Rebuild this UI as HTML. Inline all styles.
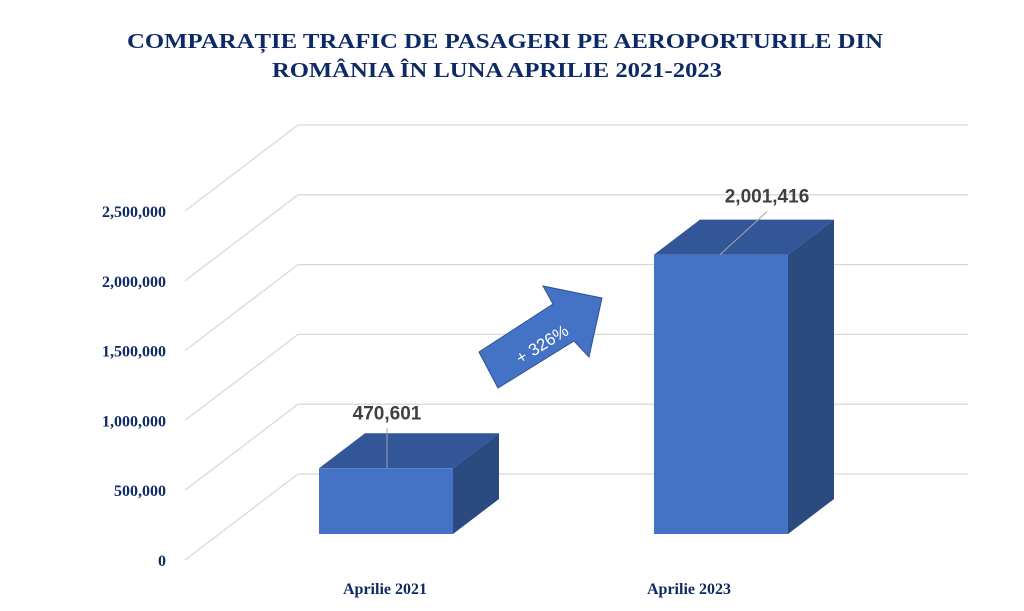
<!DOCTYPE html>
<html><head><meta charset="utf-8"><style>
html,body{margin:0;padding:0;background:#fff}
svg{display:block}
</style></head><body>
<svg width="1024" height="611" viewBox="0 0 1024 611" id="chart">
<rect width="1024" height="611" fill="#fff"/>
<g font-family="'Liberation Serif',serif" font-weight="bold" font-size="21" fill="#0e2a66" text-anchor="middle">
<text x="505" y="48" textLength="756" lengthAdjust="spacingAndGlyphs">COMPARAȚIE TRAFIC DE PASAGERI PE AEROPORTURILE DIN</text>
<text x="497" y="77" textLength="450" lengthAdjust="spacingAndGlyphs">ROMÂNIA ÎN LUNA APRILIE 2021-2023</text>
</g>
<g id="grid"></g>
<g id="yticks"></g>
<g id="bars"></g>
<g id="xlabels"></g>
<g>
<polygon points="479,352 553,304 543,286 602,298 589,357 574,341 498,388" fill="#4472C4" stroke="#2F528F" stroke-width="1"/>
<text x="542" y="350" transform="rotate(-32 542 344)" text-anchor="middle" font-family="'Liberation Sans',sans-serif" font-size="17" fill="#fff">+ 326%</text>
</g>
</svg>
<script>
const categories = ["Aprilie 2021", "Aprilie 2023"];
const values = [470601, 2001416];
const valueLabels = ["470,601", "2,001,416"];
const yTicks = [0, 500000, 1000000, 1500000, 2000000, 2500000];
const yTickLabels = ["0", "500,000", "1,000,000", "1,500,000", "2,000,000", "2,500,000"];

const NS = "http://www.w3.org/2000/svg";
const PX_PER_UNIT = 69.8 / 500000;
const DX = 113, DY = -86; // full depth offset
function yFront(v){ return 560 - v * PX_PER_UNIT; }
function barBaseY(v){ return 534 - v * PX_PER_UNIT; }
const barX = [319, 654], barW = 134, bdx = 46, bdy = -35;
function mk(tag, attrs, parent){ const e=document.createElementNS(NS,tag); for(const k in attrs) e.setAttribute(k,attrs[k]); parent.appendChild(e); return e; }

const grid = document.getElementById('grid');
const yt = document.getElementById('yticks');
yTicks.forEach((t,i)=>{
  const y = yFront(t);
  const p = mk('polyline',{points:`185,${y} ${185+DX},${y+DY} 968,${y+DY}`,fill:'none',stroke:'#d9d9d9','stroke-width':1.3},grid);
  
  
  const tx = mk('text',{x:166,y:y+6,'text-anchor':'end','font-family':"'Liberation Serif',serif",'font-weight':'bold','font-size':16,fill:'#0e2a66'},yt);
  tx.textContent = yTickLabels[i];
  
  
});

const bars = document.getElementById('bars');
const xl = document.getElementById('xlabels');
values.forEach((v,i)=>{
  const x = barX[i], y0 = barBaseY(0), y1 = barBaseY(v);
  const g = mk('g',{},bars);
  
  
  mk('polygon',{points:`${x},${y1} ${x+barW},${y1} ${x+barW+bdx},${y1+bdy} ${x+bdx},${y1+bdy}`,fill:'#325698'},g);
  mk('polygon',{points:`${x+barW},${y1} ${x+barW+bdx},${y1+bdy} ${x+barW+bdx},${y0+bdy} ${x+barW},${y0}`,fill:'#2B4A80'},g);
  mk('rect',{x:x,y:y1,width:barW,height:y0-y1,fill:'#4472C4'},g);
  // leader + label
  const lx = i===0 ? 387 : 767, ly = y1 - (i===0 ? 57 : 60);
  const lead = mk('line',{x1:lx,y1:ly+17,x2:i===0?387:720,y2:y1,stroke:'#a6a6a6','stroke-width':1},g);
  
  
  const lt = mk('text',{x:lx,y:ly+8,'text-anchor':'middle','font-family':"'Liberation Sans',sans-serif",'font-weight':'bold','font-size':19,fill:'#404040'},g);
  lt.textContent = valueLabels[i];
  
  
  const c = mk('text',{x:x+barW/2+(i===0?-1:-32),y:594,'text-anchor':'middle','font-family':"'Liberation Serif',serif",'font-weight':'bold','font-size':16,fill:'#0e2a66'},xl);
  c.textContent = categories[i];
  
  
});
</script>
</body></html>
